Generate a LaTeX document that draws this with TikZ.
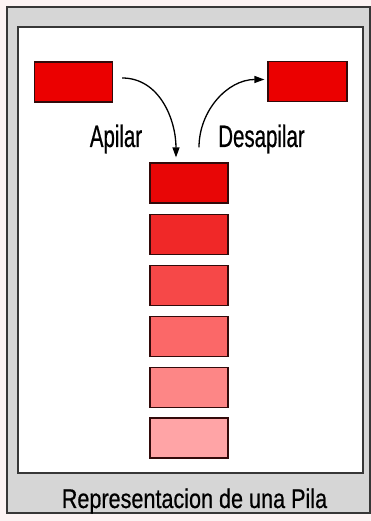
\documentclass[tikz,border=0pt]{standalone}
\usepackage{fontspec}
\usepackage{tikz}
\usetikzlibrary{arrows.meta, positioning}
\usepackage{xcolor}
\newfontfamily\labelfont[FakeStretch=0.66,FakeBold=0.6]{Liberation Sans}
\newfontfamily\capfont[FakeStretch=0.8,FakeBold=0.6]{Liberation Sans}
\definecolor{pback}{RGB}{252,243,243}
\definecolor{pgray}{RGB}{214,214,214}
\definecolor{pedge}{RGB}{55,55,55}
\definecolor{bedge}{RGB}{50,10,10}
\definecolor{rtop}{RGB}{235,0,0}
\definecolor{ra}{RGB}{232,6,6}
\definecolor{rb}{RGB}{240,40,40}
\definecolor{rc}{RGB}{246,72,72}
\definecolor{rd}{RGB}{251,104,104}
\definecolor{re}{RGB}{253,134,134}
\definecolor{rf}{RGB}{255,164,166}

\begin{document}
\begin{tikzpicture}[x=1pt,y=1pt,
  box/.style={rectangle,draw=bedge,line width=1.2pt,
              minimum width=78pt,minimum height=40pt,inner sep=0pt},
  lbl/.style={anchor=base,inner sep=0pt,font=\labelfont\fontsize{31}{33}\selectfont},
  arr/.style={-{Triangle[length=10pt,width=7pt]},black,line width=1.3pt}
]
\useasboundingbox (0,0) rectangle (371,521);
\fill[pback] (0,0) rectangle (371,521);
% frame
\draw[pedge,fill=pgray,line width=1.5pt] (7,8) rectangle (370,514);
\draw[pedge,fill=white,line width=1.8pt] (18,48) rectangle (363,494);

% elements outside the stack
\node[box, fill=rtop] (inbox)  at (73.5,439) {};
\node[box, fill=rtop, minimum width=79pt] (outbox) at (307.5,439.5) {};

% the stack
\node[box, fill=ra] (s1) at (189,338) {};
\node[box, fill=rb, below=10pt of s1] (s2) {};
\node[box, fill=rc, below=10pt of s2] (s3) {};
\node[box, fill=rd, below=10pt of s3] (s4) {};
\node[box, fill=re, below=10pt of s4] (s5) {};
\node[box, fill=rf, below=9pt of s5]  (s6) {};

% labels
\node[lbl] (push) at (116,374)   {Apilar};
\node[lbl] (pop)  at (261.5,374) {Desapilar};
\node[anchor=base,inner sep=0pt,font=\capfont\fontsize{27}{29}\selectfont] (title)
  at (194.5,13) {Representacion de una Pila};

% arrows
\coordinate (pushin) at ([xshift=-13pt,yshift=5pt]s1.north);
\coordinate (popout) at ([xshift=10pt,yshift=15pt]s1.north);
\draw[arr] ([xshift=9pt,yshift=4pt]inbox.east) to[out=0,in=90] (pushin);
\draw[arr] (popout) to[out=90,in=180] ([xshift=-3pt,yshift=2pt]outbox.west);
\end{tikzpicture}
\end{document}
